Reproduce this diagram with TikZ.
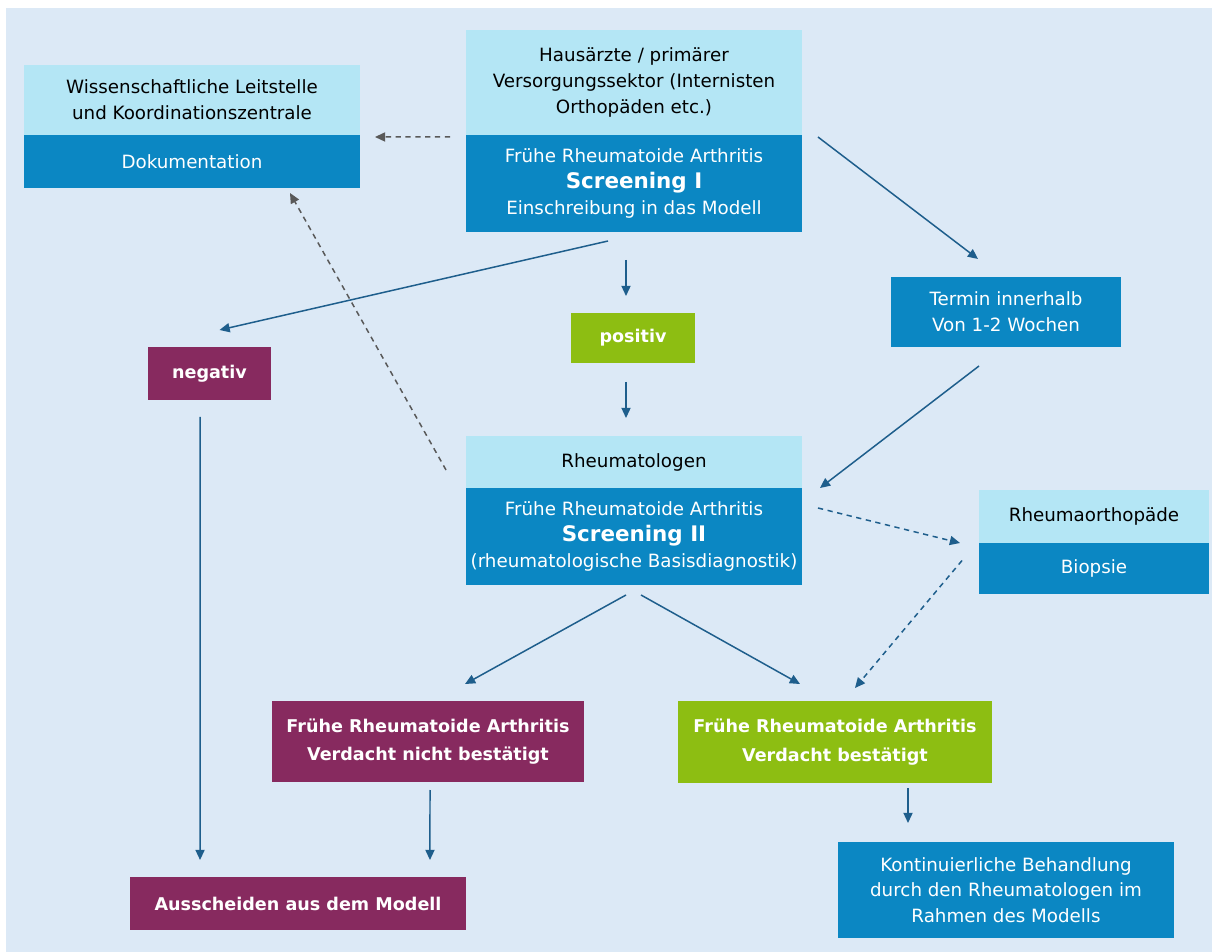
\documentclass[tikz,border=0pt]{standalone}
\usepackage{fontspec}
\setmainfont{DejaVu Sans}
\usetikzlibrary{calc,arrows.meta}
\definecolor{pagebg}{HTML}{DCE9F6}
\definecolor{headcyan}{HTML}{B4E6F5}
\definecolor{boxblue}{HTML}{0B87C3}
\definecolor{boxmaroon}{HTML}{872A5F}
\definecolor{boxgreen}{HTML}{8DBE12}
\definecolor{flowblue}{HTML}{1E5E8C}
\definecolor{flowgray}{HTML}{595959}
\begin{document}
\begin{tikzpicture}[x=0.02cm,y=-0.02cm,
  base/.style={inner sep=0pt,outer sep=0pt,align=center,
    font=\fontsize{10.4}{14.6}\selectfont},
  headbox/.style={base,fill=headcyan,text=black},
  bluebox/.style={base,fill=boxblue,text=white},
  maroonbox/.style={base,fill=boxmaroon,text=white,
    font=\fontsize{10}{16.4}\selectfont\bfseries},
  greenbox/.style={base,fill=boxgreen,text=white,
    font=\fontsize{10}{16.4}\selectfont\bfseries},
  flow/.style={draw=flowblue,line width=0.85pt,
    -{Triangle[length=5.8pt,width=5.2pt]}},
  dflow/.style={flow,dash pattern=on 3pt off 2.6pt},
  gflow/.style={draw=flowgray,line width=0.85pt,dash pattern=on 3pt off 2.6pt,
    -{Triangle[length=5.8pt,width=5.2pt]}}
]
% canvas
\useasboundingbox (0,0) rectangle (1212,952);
\fill[white] (0,0) rectangle (1212,952);
\fill[pagebg] (6,8) rectangle (1212,952);

% coordination centre
\node[headbox,minimum width=6.72cm,minimum height=1.4cm] (l1) at (192,100)
  {Wissenschaftliche Leitstelle\\und Koordinationszentrale};
\node[bluebox,minimum width=6.72cm,minimum height=1.06cm] (l2) at (192,161.5)
  {Dokumentation};

% general practitioners / screening I
\node[headbox,minimum width=6.72cm,minimum height=2.1cm] (h1) at (634,82.5)
  {Hausärzte / primärer\\Versorgungssektor (Internisten\\Orthopäden etc.)};
\node[bluebox,minimum width=6.72cm,minimum height=1.94cm] (h2) at (634,183.5)
  {Frühe Rheumatoide Arthritis\\{\fontsize{12.2}{15}\selectfont\bfseries Screening I}\\Einschreibung in das Modell};

% appointment
\node[bluebox,minimum width=4.6cm,minimum height=1.4cm] (t) at (1006,312)
  {Termin innerhalb\\Von 1-2 Wochen};

% screening results
\node[maroonbox,minimum width=2.46cm,minimum height=1.06cm] (neg) at (209.5,373.5) {negativ};
\node[greenbox,minimum width=2.48cm,minimum height=1.0cm] (pos) at (633,338) {positiv};

% rheumatologists / screening II
\node[headbox,minimum width=6.72cm,minimum height=1.04cm] (r1) at (634,462)
  {Rheumatologen};
\node[bluebox,minimum width=6.72cm,minimum height=1.94cm] (r2) at (634,536.5)
  {Frühe Rheumatoide Arthritis\\{\fontsize{12.2}{15}\selectfont\bfseries Screening II}\\(rheumatologische Basisdiagnostik)};

% rheumatological orthopaedics
\node[headbox,minimum width=4.6cm,minimum height=1.06cm] (o1) at (1094,516.5)
  {Rheumaorthopäde};
\node[bluebox,minimum width=4.6cm,minimum height=1.02cm] (o2) at (1094,568.5)
  {Biopsie};

% outcomes
\node[maroonbox,minimum width=6.24cm,minimum height=1.62cm] (n) at (428,741.5)
  {Frühe Rheumatoide Arthritis\\Verdacht nicht bestätigt};
\node[greenbox,minimum width=6.28cm,minimum height=1.64cm] (b) at (835,742)
  {Frühe Rheumatoide Arthritis\\Verdacht bestätigt};
\node[maroonbox,minimum width=6.72cm,minimum height=1.06cm] (a) at (298,903.5)
  {Ausscheiden aus dem Modell};
\node[bluebox,minimum width=6.72cm,minimum height=1.92cm] (k) at (1006,890)
  {Kontinuierliche Behandlung\\durch den Rheumatologen im\\Rahmen des Modells};

% connectors
\draw[gflow] ($(h1.south west)+(-16,2)$) -- ($(l1.south east)+(15,2)$);
\draw[gflow] ($(r1.west)+(-20,8)$) -- ($(l2.south east)+(-70,5)$);
\draw[flow] ($(h2.north east)+(16,2)$) -- ($(t.north west)+(87,-18)$);
\draw[flow] ($(h2.south)+(-26,9)$) -- ($(neg.north)+(10,-17)$);
\draw[flow] ($(h2.south)+(-8,28)$) -- ($(pos.north)+(-7,-17)$);
\draw[flow] ($(pos.south)+(-7,19)$) -- ($(r1.north)+(-8,-18)$);
\draw[flow] ($(t.south)+(-27,19)$) -- ($(r2.north east)+(18,0)$);
\draw[dflow] ($(r2.north east)+(16,20)$) -- ($(o1.south west)+(-19,0)$);
\draw[dflow] ($(o2.west)+(-17,-8)$) -- ($(b.north east)+(-137,-13)$);
\draw[flow] ($(r2.south)+(-8,10)$) -- ($(n.north)+(37,-17)$);
\draw[flow] ($(r2.south)+(7,10)$) -- ($(b.north)+(-35,-17)$);
\draw[flow] ($(neg.south)+(-9.5,17)$) -- ($(a.north west)+(70,-17)$);
\draw[flow] ($(n.south)+(2,8)$) -- ($(a.north east)+(-36,-17)$);
\draw[flow] ($(b.south)+(73,5)$) -- ($(k.north)+(-98,-19)$);
\end{tikzpicture}
\end{document}
